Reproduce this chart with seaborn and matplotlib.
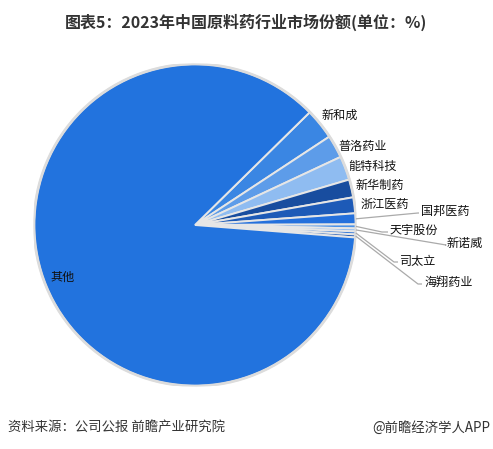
import matplotlib
matplotlib.use("Agg")
import matplotlib.pyplot as plt
import seaborn as sns
import numpy as np

sns.set_theme(style="white")
plt.rcParams['font.family'] = ['Noto Sans CJK SC', 'DejaVu Sans']

# ---- data ----
companies = ["新和成", "普洛药业", "能特科技", "新华制药", "浙江医药",
             "国邦医药", "天宇股份", "新诺威", "司太立", "海翔药业", "其他"]
shares = [3.1, 2.3, 2.4, 1.8, 1.6, 1.1, 0.4, 0.3, 0.3, 0.3, 86.4]
colors = ["#3a86e3", "#5d9ce9", "#8fbcf1", "#184d9f", "#1d5ab7",
          "#2470dc", "#4b92e8", "#8ab6ee", "#2d74d6", "#1c58b4", "#2273de"]

title = "图表5：2023年中国原料药行业市场份额(单位：%)"
source = "资料来源：公司公报 前瞻产业研究院"
credit = "@前瞻经济学人APP"

W, H = 493, 449
fig = plt.figure(figsize=(W / 100, H / 100), dpi=100)
fig.patch.set_facecolor("white")

cx, cy, R = 195, 225, 161
ax = fig.add_axes([(cx - R) / W, (H - cy - R) / H, 2 * R / W, 2 * R / H])
wedges, _ = ax.pie(shares, colors=colors, startangle=44.5, counterclock=False,
                   radius=1.0,
                   wedgeprops=dict(edgecolor="#e6e6e6", linewidth=1.4))
ax.add_patch(plt.Circle((0, 0), 1.0, fill=False, edgecolor="#dcdcdc", lw=2.0))
ax.set_xlim(-1, 1)
ax.set_ylim(-1, 1)
ax.set_aspect("auto")
ax.axis("off")


def P(px, py):
    return ((px - cx) / R, (cy - py) / R)


# label layout (pixel positions of text centers)
plain_pos = {"新和成": (340, 115), "普洛药业": (363, 146), "能特科技": (373, 166),
             "新华制药": (380, 185), "浙江医药": (385, 204)}
# leader-line labels: text left edge, elbow point
lead_pos = {"国邦医药": ((421, 211), (418, 213)),
            "天宇股份": ((390, 230), (382, 232)),
            "新诺威": ((447, 243), (446, 245)),
            "司太立": ((400, 261), (394, 262)),
            "海翔药业": ((424, 282), (418, 284))}

fs = 8.7
for w, name in zip(wedges, companies):
    mid = np.deg2rad((w.theta1 + w.theta2) / 2)
    if name in plain_pos:
        x, y = P(*plain_pos[name])
        ax.text(x, y, name, ha="center", va="center", fontsize=fs, color="#111111")
    elif name in lead_pos:
        (tx, ty), (ex, ey) = lead_pos[name]
        sx, sy = np.cos(mid) * 1.0, np.sin(mid) * 1.0
        exd, eyd = P(ex, ey)
        txd, tyd = P(tx - 2, ey)
        ax.plot([sx, exd, txd], [sy, eyd, tyd], color="#aaaaaa", lw=0.9,
                solid_capstyle="butt", clip_on=False)
        x, y = P(tx, ty)
        ax.text(x, y, name, ha="left", va="center", fontsize=fs, color="#111111")
    else:
        x, y = P(63, 277)
        ax.text(x, y, name, ha="center", va="center", fontsize=fs, color="#111111")

fig.text(0.5, 1 - 22 / H, title, ha="center", va="center", fontsize=11.5,
         fontweight="bold", color="#333333")
fig.text(8 / W, 1 - 428 / H, source, ha="left", va="center", fontsize=9.6,
         color="#333333")
fig.text(490 / W, 1 - 428 / H, credit, ha="right", va="center", fontsize=9.6,
         color="#333333")

fig.savefig("out.png", dpi=100, facecolor="white")
